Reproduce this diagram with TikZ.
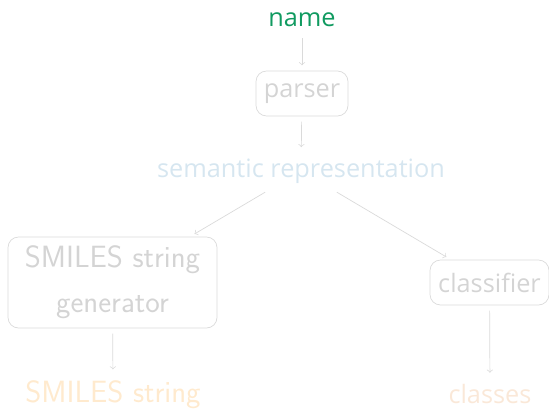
\documentclass[tikz,border=0pt]{standalone}
\usepackage{fontspec}
\newfontfamily\opensans{Open Sans}
\usepackage{tikz}
\usetikzlibrary{positioning}
\definecolor{namegreen}{RGB}{16,154,96}
\definecolor{linegray}{RGB}{218,218,218}
\definecolor{textgray}{RGB}{212,212,212}
\definecolor{semblue}{RGB}{214,230,240}
\definecolor{smilesorange}{RGB}{255,234,206}
\definecolor{classorange}{RGB}{250,232,216}

\begin{document}
\begin{tikzpicture}[>=to,shorten >=3pt,shorten <=3pt,
      flow/.style={->,draw=linegray,thin},
      label node/.style={font=\opensans\fontsize{14.4}{17}\selectfont},
      box node/.style={draw=linegray,rounded corners=6pt,text=textgray,minimum height=0.9cm,
        font=\opensans\fontsize{14.4}{17}\selectfont}]
      \useasboundingbox (0,0) rectangle (10.98,-8.2);
      \node[label node,text=namegreen] (name) at (6.04,-0.4) {name};
      \node[box node,minimum width=1.84cm] (parser) at (6.04,-1.87) {parser};
      \node[label node,text=semblue] (sem) at (6.02,-3.42) {semantic representation};
      \node[box node,minimum width=4.18cm,minimum height=1.82cm,align=center,
        font=\sffamily\fontsize{17.5}{25.5}\selectfont] (gen) at (2.25,-5.65) {SMILES string\\generator};
      \node[label node,text=smilesorange,font=\sffamily\fontsize{17.5}{20}\selectfont] (smiles) at (2.26,-7.9) {SMILES string};
      \node[box node,minimum width=2.38cm] (cls) at (9.79,-5.65) {classifier};
      \node[label node,text=classorange] (classes) at (9.8,-7.88) {classes};

      \path[flow]
        (name) edge (parser)
        (parser) edge (sem)
        (sem) edge (gen)
        (sem) edge (cls)
        (gen) edge (smiles)
        (cls) edge (classes);
\end{tikzpicture}
\end{document}
